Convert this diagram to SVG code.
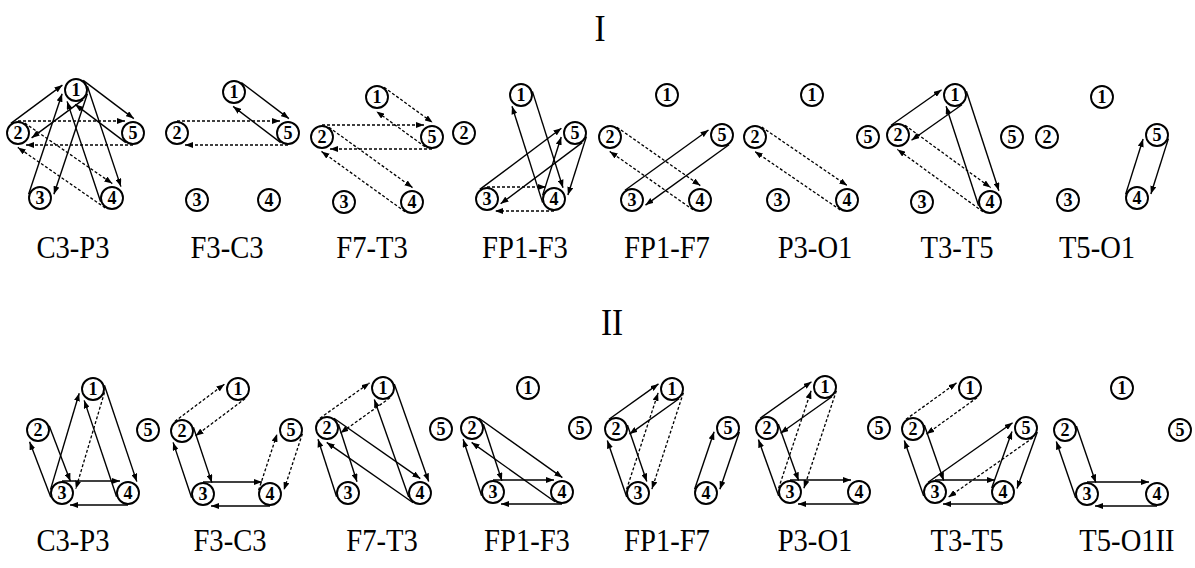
<svg xmlns="http://www.w3.org/2000/svg" width="1195" height="568" viewBox="0 0 1195 568">
<style>
.s{stroke:#000;stroke-width:1.4;fill:none;marker-end:url(#ah)}
.d{stroke:#000;stroke-width:1.3;fill:none;stroke-dasharray:3 2;marker-end:url(#ah)}
.nc{fill:#fff;stroke:#000;stroke-width:1.9}
.nt{font-family:"Liberation Serif",serif;font-weight:bold;font-size:18px;text-anchor:middle;fill:#000}
.lb{font-family:"Liberation Serif",serif;font-size:32.5px;text-anchor:middle;fill:#000}
.tt{font-family:"Liberation Serif",serif;font-size:37px;text-anchor:middle;fill:#000}
</style>
<defs>
<marker id="ah" markerWidth="8" markerHeight="6" refX="8" refY="3" orient="auto" markerUnits="userSpaceOnUse"><path d="M0,0 L8,3 L0,6 z" fill="#000"/></marker>
</defs>
<rect width="1195" height="568" fill="#fff"/>
<text class="tt" transform="translate(600,41) scale(0.9,1)">I</text>
<text class="tt" transform="translate(612,335) scale(0.9,1)">II</text>
<g id="connectors">
<!-- P1 C3-P3 -->
<line class="s" x1="83.2" y1="99.6" x2="31.6" y2="137.9"/>
<line class="s" x1="10.9" y1="123.4" x2="62.4" y2="85.1"/>
<line class="s" x1="83.2" y1="80.4" x2="133.8" y2="118.6"/>
<line class="s" x1="125.8" y1="142.6" x2="75.2" y2="104.4"/>
<line class="s" x1="87.4" y1="93.8" x2="53.9" y2="194.2"/>
<line class="s" x1="28.6" y1="194.2" x2="62.1" y2="93.8"/>
<line class="s" x1="87.4" y1="86.2" x2="120.9" y2="186.6"/>
<line class="s" x1="100.6" y1="201.8" x2="67.1" y2="101.4"/>
<line class="d" x1="18" y1="121" x2="125" y2="121"/>
<line class="d" x1="133" y1="145" x2="26" y2="145"/>
<line class="d" x1="24.8" y1="123.1" x2="112.3" y2="183.6"/>
<line class="d" x1="105.2" y1="207.9" x2="17.8" y2="147.4"/>
<!-- P2 F3-C3 -->
<line class="s" x1="241.3" y1="82.5" x2="288.9" y2="118.6"/>
<line class="s" x1="280.7" y1="142.6" x2="233.1" y2="106.4"/>
<line class="d" x1="177" y1="121" x2="280" y2="121"/>
<line class="d" x1="288" y1="145" x2="185" y2="145"/>
<!-- P3 F7-T3 -->
<line class="d" x1="384.1" y1="87.3" x2="432.6" y2="122.6"/>
<line class="d" x1="424.9" y1="146.7" x2="376.4" y2="111.4"/>
<line class="d" x1="322" y1="125" x2="424" y2="125"/>
<line class="d" x1="432" y1="149" x2="330" y2="149"/>
<line class="d" x1="329" y1="127.3" x2="412.5" y2="187.6"/>
<line class="d" x1="405" y1="211.7" x2="321.5" y2="151.4"/>
<!-- P4 FP1-F3 -->
<line class="s" x1="532.4" y1="91.4" x2="563" y2="187.7"/>
<line class="s" x1="542.6" y1="202.6" x2="512" y2="106.3"/>
<line class="s" x1="479.8" y1="189.4" x2="561.4" y2="128.2"/>
<line class="s" x1="582.2" y1="142.6" x2="500.6" y2="203.8"/>
<line class="s" x1="586.4" y1="136.6" x2="567.9" y2="195"/>
<line class="s" x1="542.6" y1="195.4" x2="561.2" y2="137"/>
<line class="d" x1="487" y1="187" x2="546" y2="187"/>
<line class="d" x1="554" y1="211" x2="495" y2="211"/>
<!-- P5 FP1-F7 -->
<line class="d" x1="616.9" y1="127.2" x2="700.3" y2="185.6"/>
<line class="d" x1="693.1" y1="209.8" x2="609.7" y2="151.4"/>
<line class="s" x1="625" y1="190.3" x2="708.5" y2="130"/>
<line class="s" x1="729" y1="144.7" x2="645.5" y2="205.1"/>
<!-- P6 P3-O1 -->
<line class="d" x1="761.8" y1="127.1" x2="847.2" y2="185.6"/>
<line class="d" x1="840.2" y1="209.9" x2="754.8" y2="151.4"/>
<!-- P7 T3-T5 -->
<line class="s" x1="891.1" y1="125.2" x2="941.6" y2="89.8"/>
<line class="s" x1="961.9" y1="104.8" x2="911.5" y2="140.2"/>
<line class="s" x1="966.4" y1="91.3" x2="998.9" y2="190.7"/>
<line class="s" x1="978.6" y1="205.7" x2="946.1" y2="106.3"/>
<line class="d" x1="905.1" y1="125.3" x2="990.6" y2="187.6"/>
<line class="d" x1="982.9" y1="211.7" x2="897.4" y2="149.4"/>
<!-- P8 T5-O1 -->
<line class="s" x1="1125.6" y1="194.4" x2="1143.1" y2="139"/>
<line class="s" x1="1168.4" y1="138.6" x2="1150.9" y2="194"/>
<!-- Q1 C3-P3 -->
<line class="s" x1="49.2" y1="425.7" x2="70.4" y2="481.3"/>
<line class="s" x1="50.8" y1="497.3" x2="29.6" y2="441.8"/>
<line class="d" x1="104.5" y1="392.4" x2="75.8" y2="488.8"/>
<line class="s" x1="50.5" y1="489.6" x2="79.2" y2="393.2"/>
<line class="s" x1="104.4" y1="385.2" x2="136.8" y2="481.6"/>
<line class="s" x1="116.6" y1="496.8" x2="84.2" y2="400.4"/>
<line class="s" x1="62" y1="481" x2="120" y2="481"/>
<line class="s" x1="128" y1="505" x2="70" y2="505"/>
<!-- Q2 F3-C3 -->
<line class="d" x1="174.8" y1="421.4" x2="224.4" y2="384.2"/>
<line class="d" x1="245.2" y1="398.6" x2="195.6" y2="435.8"/>
<line class="s" x1="193.4" y1="427.2" x2="211.9" y2="482.6"/>
<line class="s" x1="191.6" y1="497.8" x2="173.1" y2="442.4"/>
<line class="s" x1="203" y1="482" x2="262" y2="482"/>
<line class="s" x1="270" y1="506" x2="211" y2="506"/>
<line class="d" x1="258.6" y1="490.3" x2="277.1" y2="433.9"/>
<line class="d" x1="302.4" y1="433.7" x2="283.9" y2="490.1"/>
<!-- Q3 F7-T3 -->
<line class="d" x1="320" y1="418.2" x2="369.5" y2="382.9"/>
<line class="d" x1="390" y1="397.8" x2="340.5" y2="433.1"/>
<line class="s" x1="338.4" y1="424.3" x2="357" y2="481.7"/>
<line class="s" x1="336.6" y1="496.7" x2="318" y2="439.3"/>
<line class="s" x1="333.9" y1="418.2" x2="420.3" y2="478.6"/>
<line class="s" x1="413.1" y1="502.8" x2="326.7" y2="442.4"/>
<line class="s" x1="394.3" y1="384" x2="428.7" y2="481.5"/>
<line class="s" x1="408.7" y1="497" x2="374.3" y2="399.5"/>
<!-- Q4 FP1-F3 -->
<line class="s" x1="483.4" y1="424.3" x2="501.9" y2="480.7"/>
<line class="s" x1="481.6" y1="495.7" x2="463.1" y2="439.3"/>
<line class="s" x1="479" y1="418.2" x2="562.4" y2="477.6"/>
<line class="s" x1="555" y1="501.8" x2="471.6" y2="442.4"/>
<line class="s" x1="493" y1="480" x2="554" y2="480"/>
<line class="s" x1="562" y1="504" x2="501" y2="504"/>
<!-- Q5 FP1-F7 -->
<line class="s" x1="609" y1="419.2" x2="658.5" y2="383.9"/>
<line class="s" x1="679" y1="398.8" x2="629.5" y2="434.1"/>
<line class="s" x1="627.4" y1="425.1" x2="646.8" y2="481.5"/>
<line class="s" x1="626.7" y1="496.9" x2="607.3" y2="440.5"/>
<line class="d" x1="683.4" y1="392.7" x2="651.9" y2="489.1"/>
<line class="d" x1="626.6" y1="489.3" x2="658.1" y2="392.9"/>
<line class="s" x1="694.6" y1="489.2" x2="714.1" y2="431.7"/>
<line class="s" x1="739.4" y1="431.9" x2="719.9" y2="489.3"/>
<!-- Q6 P3-O1 -->
<line class="s" x1="760.1" y1="418.2" x2="811.5" y2="381.8"/>
<line class="s" x1="831.9" y1="396.8" x2="780.5" y2="433.2"/>
<line class="s" x1="778.3" y1="423.9" x2="798.6" y2="480.4"/>
<line class="s" x1="778.7" y1="496.1" x2="758.4" y2="439.6"/>
<line class="d" x1="836.4" y1="390.8" x2="803.9" y2="488.2"/>
<line class="d" x1="778.6" y1="488.2" x2="811.1" y2="390.8"/>
<line class="s" x1="790" y1="480" x2="851" y2="480"/>
<line class="s" x1="859" y1="504" x2="798" y2="504"/>
<!-- Q7 T3-T5 -->
<line class="d" x1="906" y1="419.3" x2="956.5" y2="382.9"/>
<line class="d" x1="977" y1="397.7" x2="926.5" y2="434.1"/>
<line class="s" x1="924.3" y1="425" x2="943.7" y2="480.5"/>
<line class="s" x1="923.7" y1="496" x2="904.3" y2="440.5"/>
<line class="s" x1="928.1" y1="482.2" x2="1012.6" y2="422.8"/>
<line class="d" x1="1032.9" y1="437.8" x2="948.4" y2="497.2"/>
<line class="s" x1="991.7" y1="487.9" x2="1012" y2="431.5"/>
<line class="s" x1="1037.3" y1="432.1" x2="1017" y2="488.5"/>
<line class="s" x1="935" y1="480" x2="995" y2="480"/>
<line class="s" x1="1003" y1="504" x2="943" y2="504"/>
<!-- Q8 T5-O1 -->
<line class="s" x1="1076.4" y1="426.1" x2="1095.8" y2="482.5"/>
<line class="s" x1="1075.7" y1="497.9" x2="1056.3" y2="441.5"/>
<line class="s" x1="1087" y1="482" x2="1149" y2="482"/>
<line class="s" x1="1157" y1="506" x2="1095" y2="506"/>
</g>
<!-- Row I nodes -->
<g id="I-C3P3-1"><circle class="nc" cx="76" cy="90" r="11"/><text class="nt" x="76" y="96">1</text></g>
<g id="I-C3P3-2"><circle class="nc" cx="18" cy="133" r="11"/><text class="nt" x="18" y="139">2</text></g>
<g id="I-C3P3-3"><circle class="nc" cx="40" cy="198" r="11"/><text class="nt" x="40" y="204">3</text></g>
<g id="I-C3P3-4"><circle class="nc" cx="112" cy="198" r="11"/><text class="nt" x="112" y="204">4</text></g>
<g id="I-C3P3-5"><circle class="nc" cx="133" cy="133" r="11"/><text class="nt" x="133" y="139">5</text></g>
<g id="I-F3C3-1"><circle class="nc" cx="234" cy="92" r="11"/><text class="nt" x="234" y="98">1</text></g>
<g id="I-F3C3-2"><circle class="nc" cx="177" cy="133" r="11"/><text class="nt" x="177" y="139">2</text></g>
<g id="I-F3C3-3"><circle class="nc" cx="197" cy="200" r="11"/><text class="nt" x="197" y="206">3</text></g>
<g id="I-F3C3-4"><circle class="nc" cx="269" cy="200" r="11"/><text class="nt" x="269" y="206">4</text></g>
<g id="I-F3C3-5"><circle class="nc" cx="288" cy="133" r="11"/><text class="nt" x="288" y="139">5</text></g>
<g id="I-F7T3-1"><circle class="nc" cx="377" cy="97" r="11"/><text class="nt" x="377" y="103">1</text></g>
<g id="I-F7T3-2"><circle class="nc" cx="322" cy="137" r="11"/><text class="nt" x="322" y="143">2</text></g>
<g id="I-F7T3-3"><circle class="nc" cx="344" cy="202" r="11"/><text class="nt" x="344" y="208">3</text></g>
<g id="I-F7T3-4"><circle class="nc" cx="412" cy="202" r="11"/><text class="nt" x="412" y="208">4</text></g>
<g id="I-F7T3-5"><circle class="nc" cx="432" cy="137" r="11"/><text class="nt" x="432" y="143">5</text></g>
<g id="I-FP1F3-1"><circle class="nc" cx="521" cy="95" r="11"/><text class="nt" x="521" y="101">1</text></g>
<g id="I-FP1F3-2"><circle class="nc" cx="464" cy="133" r="11"/><text class="nt" x="464" y="139">2</text></g>
<g id="I-FP1F3-3"><circle class="nc" cx="487" cy="199" r="11"/><text class="nt" x="487" y="205">3</text></g>
<g id="I-FP1F3-4"><circle class="nc" cx="554" cy="199" r="11"/><text class="nt" x="554" y="205">4</text></g>
<g id="I-FP1F3-5"><circle class="nc" cx="575" cy="133" r="11"/><text class="nt" x="575" y="139">5</text></g>
<g id="I-FP1F7-1"><circle class="nc" cx="667" cy="95" r="11"/><text class="nt" x="667" y="101">1</text></g>
<g id="I-FP1F7-2"><circle class="nc" cx="610" cy="137" r="11"/><text class="nt" x="610" y="143">2</text></g>
<g id="I-FP1F7-3"><circle class="nc" cx="632" cy="200" r="11"/><text class="nt" x="632" y="206">3</text></g>
<g id="I-FP1F7-4"><circle class="nc" cx="700" cy="200" r="11"/><text class="nt" x="700" y="206">4</text></g>
<g id="I-FP1F7-5"><circle class="nc" cx="722" cy="135" r="11"/><text class="nt" x="722" y="141">5</text></g>
<g id="I-P3O1-1"><circle class="nc" cx="812" cy="95" r="11"/><text class="nt" x="812" y="101">1</text></g>
<g id="I-P3O1-2"><circle class="nc" cx="755" cy="137" r="11"/><text class="nt" x="755" y="143">2</text></g>
<g id="I-P3O1-3"><circle class="nc" cx="778" cy="200" r="11"/><text class="nt" x="778" y="206">3</text></g>
<g id="I-P3O1-4"><circle class="nc" cx="847" cy="200" r="11"/><text class="nt" x="847" y="206">4</text></g>
<g id="I-P3O1-5"><circle class="nc" cx="868" cy="137" r="11"/><text class="nt" x="868" y="143">5</text></g>
<g id="I-T3T5-1"><circle class="nc" cx="955" cy="95" r="11"/><text class="nt" x="955" y="101">1</text></g>
<g id="I-T3T5-2"><circle class="nc" cx="898" cy="135" r="11"/><text class="nt" x="898" y="141">2</text></g>
<g id="I-T3T5-3"><circle class="nc" cx="922" cy="202" r="11"/><text class="nt" x="922" y="208">3</text></g>
<g id="I-T3T5-4"><circle class="nc" cx="990" cy="202" r="11"/><text class="nt" x="990" y="208">4</text></g>
<g id="I-T3T5-5"><circle class="nc" cx="1012" cy="137" r="11"/><text class="nt" x="1012" y="143">5</text></g>
<g id="I-T5O1-1"><circle class="nc" cx="1102" cy="97" r="11"/><text class="nt" x="1102" y="103">1</text></g>
<g id="I-T5O1-2"><circle class="nc" cx="1047" cy="137" r="11"/><text class="nt" x="1047" y="143">2</text></g>
<g id="I-T5O1-3"><circle class="nc" cx="1068" cy="200" r="11"/><text class="nt" x="1068" y="206">3</text></g>
<g id="I-T5O1-4"><circle class="nc" cx="1137" cy="198" r="11"/><text class="nt" x="1137" y="204">4</text></g>
<g id="I-T5O1-5"><circle class="nc" cx="1157" cy="135" r="11"/><text class="nt" x="1157" y="141">5</text></g>
<!-- Row II nodes -->
<g id="II-C3P3-1"><circle class="nc" cx="93" cy="389" r="11"/><text class="nt" x="93" y="395">1</text></g>
<g id="II-C3P3-2"><circle class="nc" cx="38" cy="430" r="11"/><text class="nt" x="38" y="436">2</text></g>
<g id="II-C3P3-3"><circle class="nc" cx="62" cy="493" r="11"/><text class="nt" x="62" y="499">3</text></g>
<g id="II-C3P3-4"><circle class="nc" cx="128" cy="493" r="11"/><text class="nt" x="128" y="499">4</text></g>
<g id="II-C3P3-5"><circle class="nc" cx="148" cy="430" r="11"/><text class="nt" x="148" y="436">5</text></g>
<g id="II-F3C3-1"><circle class="nc" cx="238" cy="389" r="11"/><text class="nt" x="238" y="395">1</text></g>
<g id="II-F3C3-2"><circle class="nc" cx="182" cy="431" r="11"/><text class="nt" x="182" y="437">2</text></g>
<g id="II-F3C3-3"><circle class="nc" cx="203" cy="494" r="11"/><text class="nt" x="203" y="500">3</text></g>
<g id="II-F3C3-4"><circle class="nc" cx="270" cy="494" r="11"/><text class="nt" x="270" y="500">4</text></g>
<g id="II-F3C3-5"><circle class="nc" cx="291" cy="430" r="11"/><text class="nt" x="291" y="436">5</text></g>
<g id="II-F7T3-1"><circle class="nc" cx="383" cy="388" r="11"/><text class="nt" x="383" y="394">1</text></g>
<g id="II-F7T3-2"><circle class="nc" cx="327" cy="428" r="11"/><text class="nt" x="327" y="434">2</text></g>
<g id="II-F7T3-3"><circle class="nc" cx="348" cy="493" r="11"/><text class="nt" x="348" y="499">3</text></g>
<g id="II-F7T3-4"><circle class="nc" cx="420" cy="493" r="11"/><text class="nt" x="420" y="499">4</text></g>
<g id="II-F7T3-5"><circle class="nc" cx="441" cy="429" r="11"/><text class="nt" x="441" y="435">5</text></g>
<g id="II-FP1F3-1"><circle class="nc" cx="528" cy="388" r="11"/><text class="nt" x="528" y="394">1</text></g>
<g id="II-FP1F3-2"><circle class="nc" cx="472" cy="428" r="11"/><text class="nt" x="472" y="434">2</text></g>
<g id="II-FP1F3-3"><circle class="nc" cx="493" cy="492" r="11"/><text class="nt" x="493" y="498">3</text></g>
<g id="II-FP1F3-4"><circle class="nc" cx="562" cy="492" r="11"/><text class="nt" x="562" y="498">4</text></g>
<g id="II-FP1F3-5"><circle class="nc" cx="580" cy="428" r="11"/><text class="nt" x="580" y="434">5</text></g>
<g id="II-FP1F7-1"><circle class="nc" cx="672" cy="389" r="11"/><text class="nt" x="672" y="395">1</text></g>
<g id="II-FP1F7-2"><circle class="nc" cx="616" cy="429" r="11"/><text class="nt" x="616" y="435">2</text></g>
<g id="II-FP1F7-3"><circle class="nc" cx="638" cy="493" r="11"/><text class="nt" x="638" y="499">3</text></g>
<g id="II-FP1F7-4"><circle class="nc" cx="706" cy="493" r="11"/><text class="nt" x="706" y="499">4</text></g>
<g id="II-FP1F7-5"><circle class="nc" cx="728" cy="428" r="11"/><text class="nt" x="728" y="434">5</text></g>
<g id="II-P3O1-1"><circle class="nc" cx="825" cy="387" r="11"/><text class="nt" x="825" y="393">1</text></g>
<g id="II-P3O1-2"><circle class="nc" cx="767" cy="428" r="11"/><text class="nt" x="767" y="434">2</text></g>
<g id="II-P3O1-3"><circle class="nc" cx="790" cy="492" r="11"/><text class="nt" x="790" y="498">3</text></g>
<g id="II-P3O1-4"><circle class="nc" cx="859" cy="492" r="11"/><text class="nt" x="859" y="498">4</text></g>
<g id="II-P3O1-5"><circle class="nc" cx="879" cy="428" r="11"/><text class="nt" x="879" y="434">5</text></g>
<g id="II-T3T5-1"><circle class="nc" cx="970" cy="388" r="11"/><text class="nt" x="970" y="394">1</text></g>
<g id="II-T3T5-2"><circle class="nc" cx="913" cy="429" r="11"/><text class="nt" x="913" y="435">2</text></g>
<g id="II-T3T5-3"><circle class="nc" cx="935" cy="492" r="11"/><text class="nt" x="935" y="498">3</text></g>
<g id="II-T3T5-4"><circle class="nc" cx="1003" cy="492" r="11"/><text class="nt" x="1003" y="498">4</text></g>
<g id="II-T3T5-5"><circle class="nc" cx="1026" cy="428" r="11"/><text class="nt" x="1026" y="434">5</text></g>
<g id="II-T5O1-1"><circle class="nc" cx="1122" cy="388" r="11"/><text class="nt" x="1122" y="394">1</text></g>
<g id="II-T5O1-2"><circle class="nc" cx="1065" cy="430" r="11"/><text class="nt" x="1065" y="436">2</text></g>
<g id="II-T5O1-3"><circle class="nc" cx="1087" cy="494" r="11"/><text class="nt" x="1087" y="500">3</text></g>
<g id="II-T5O1-4"><circle class="nc" cx="1157" cy="494" r="11"/><text class="nt" x="1157" y="500">4</text></g>
<g id="II-T5O1-5"><circle class="nc" cx="1180" cy="430" r="11"/><text class="nt" x="1180" y="436">5</text></g>
<!-- Labels -->
<g id="labels">
<text class="lb" transform="translate(73,258) scale(0.88,1)">C3-P3</text>
<text class="lb" transform="translate(227,258) scale(0.88,1)">F3-C3</text>
<text class="lb" transform="translate(372,258) scale(0.88,1)">F7-T3</text>
<text class="lb" transform="translate(525,258) scale(0.88,1)">FP1-F3</text>
<text class="lb" transform="translate(667,258) scale(0.88,1)">FP1-F7</text>
<text class="lb" transform="translate(815,258) scale(0.88,1)">P3-O1</text>
<text class="lb" transform="translate(957,258) scale(0.88,1)">T3-T5</text>
<text class="lb" transform="translate(1097,258) scale(0.88,1)">T5-O1</text>
<text class="lb" transform="translate(73,551) scale(0.88,1)">C3-P3</text>
<text class="lb" transform="translate(230,551) scale(0.88,1)">F3-C3</text>
<text class="lb" transform="translate(382,551) scale(0.88,1)">F7-T3</text>
<text class="lb" transform="translate(527,551) scale(0.88,1)">FP1-F3</text>
<text class="lb" transform="translate(667,551) scale(0.88,1)">FP1-F7</text>
<text class="lb" transform="translate(815,551) scale(0.88,1)">P3-O1</text>
<text class="lb" transform="translate(967,551) scale(0.88,1)">T3-T5</text>
<text class="lb" transform="translate(1127,551) scale(0.88,1)">T5-O1II</text>
</g>
</svg>
